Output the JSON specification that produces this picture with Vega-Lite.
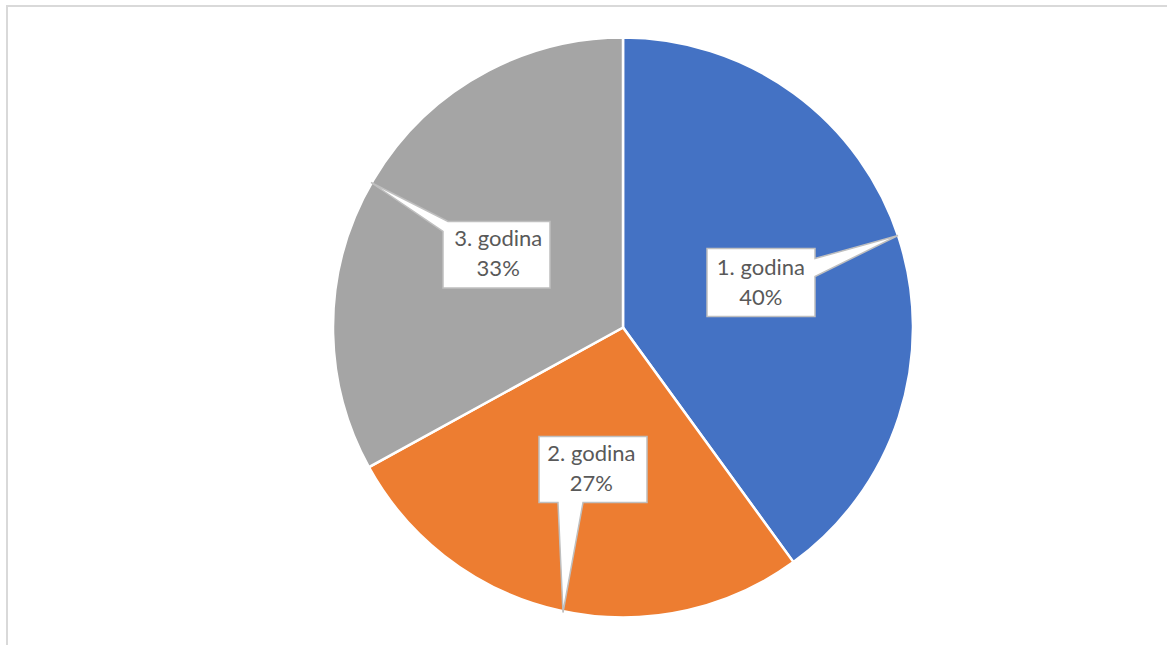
{
  "$schema": "https://vega.github.io/schema/vega-lite/v6.json",
  "width": 1232,
  "height": 643,
  "autosize": {"type": "none"},
  "padding": {"left": 7, "top": 6, "right": -72, "bottom": -4},
  "background": "white",
  "view": {"stroke": "#D9D9D9", "strokeWidth": 2, "fill": null},
  "config": {"view": {"stroke": "#D9D9D9", "strokeWidth": 2}},
  "data": {
    "values": [
      {"godina": "1. godina", "udio": 0.40},
      {"godina": "2. godina", "udio": 0.27},
      {"godina": "3. godina", "udio": 0.33}
    ]
  },
  "layer": [
    {
      "mark": {"type": "arc", "outerRadius": 290, "stroke": "white", "strokeWidth": 2.5},
      "encoding": {
        "theta": {"field": "udio", "type": "quantitative", "stack": true},
        "color": {
          "field": "godina",
          "type": "nominal",
          "scale": {"domain": ["1. godina", "2. godina", "3. godina"], "range": ["#4472C4", "#ED7D31", "#A5A5A5"]},
          "legend": null
        },
        "order": {"field": "godina", "sort": "ascending"}
      }
    },
    {
      "mark": {"type": "point", "filled": true, "fill": "white", "stroke": "#BFBFBF", "strokeWidth": 1.5, "opacity": 1, "size": 4},
      "encoding": {
        "shape": {
          "field": "godina",
          "type": "nominal",
          "scale": {
            "domain": ["1. godina", "2. godina", "3. godina"],
            "range": [
              "M84,-79 H192 V-69 L275,-92 L192,-51 V-11 H84 Z",
              "M-84,109 H24 V175 H-40 L-60,285 L-65,175 H-84 Z",
              "M-175,-106 H-73 V-39.5 H-180 V-96 L-252,-145 Z"
            ]
          },
          "legend": null
        }
      }
    },
    {
      "mark": {"type": "text", "radius": 145, "dy": -15, "font": "Lato", "fontSize": 22, "fill": "#595959", "align": "center", "baseline": "middle"},
      "encoding": {
        "theta": {"field": "udio", "type": "quantitative", "stack": true},
        "text": {"field": "godina", "type": "nominal"},
        "order": {"field": "godina", "sort": "ascending"}
      }
    },
    {
      "mark": {"type": "text", "radius": 145, "dy": 15, "font": "Lato", "fontSize": 22, "fill": "#595959", "align": "center", "baseline": "middle"},
      "encoding": {
        "theta": {"field": "udio", "type": "quantitative", "stack": true},
        "text": {"field": "udio", "type": "quantitative", "format": ".0%"},
        "order": {"field": "godina", "sort": "ascending"}
      }
    }
  ]
}
